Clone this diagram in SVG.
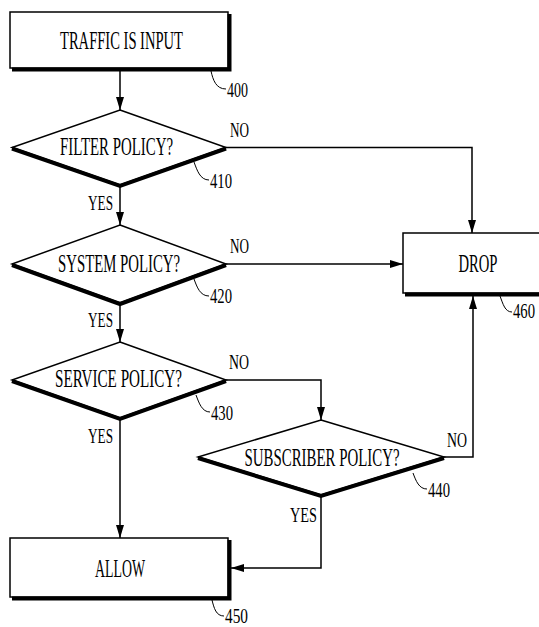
<svg xmlns="http://www.w3.org/2000/svg" width="539" height="627" viewBox="0 0 539 627">
<style>
.box{fill:#fff;stroke:#000;stroke-width:1.5}
.sh{fill:none;stroke:#000;stroke-width:4;stroke-linejoin:miter}
.lbl{font-family:"Liberation Serif","Times New Roman",serif;font-size:25px;fill:#000;text-anchor:middle}
.sm{font-family:"Liberation Serif","Times New Roman",serif;font-size:21px;fill:#000}
.ref{font-family:"Liberation Serif","Times New Roman",serif;font-size:22px;fill:#000}
.ld{fill:none;stroke:#000;stroke-width:1}
.cn{fill:none;stroke:#000;stroke-width:1.5}
</style>
<defs>
<marker id="ah" markerUnits="userSpaceOnUse" markerWidth="14" markerHeight="9" refX="13" refY="4" orient="auto">
<path d="M0,0 L13,4 L0,8 z" fill="#000"/>
</marker>
</defs>
<rect width="539" height="627" fill="#fff"/>

<g id="connectors">
<path class="cn" d="M120,71 V110" marker-end="url(#ah)"/>
<path class="cn" d="M120,187 V225" marker-end="url(#ah)"/>
<path class="cn" d="M120,305 V342" marker-end="url(#ah)"/>
<path class="cn" d="M120,420 V538" marker-end="url(#ah)"/>
<path class="cn" d="M226,147.5 H472 V233" marker-end="url(#ah)"/>
<path class="cn" d="M226,264 H403" marker-end="url(#ah)"/>
<path class="cn" d="M226,380 H321 V420" marker-end="url(#ah)"/>
<path class="cn" d="M444,457 H473 V296" marker-end="url(#ah)"/>
<path class="cn" d="M321,497 V568 H231" marker-end="url(#ah)"/>
<text class="sm" x="230" y="137" textLength="19" lengthAdjust="spacingAndGlyphs">NO</text>
<text class="sm" x="230" y="253" textLength="19" lengthAdjust="spacingAndGlyphs">NO</text>
<text class="sm" x="229" y="369" textLength="20" lengthAdjust="spacingAndGlyphs">NO</text>
<text class="sm" x="447" y="447" textLength="20" lengthAdjust="spacingAndGlyphs">NO</text>
<text class="sm" x="88" y="210" textLength="25" lengthAdjust="spacingAndGlyphs">YES</text>
<text class="sm" x="88" y="327" textLength="25" lengthAdjust="spacingAndGlyphs">YES</text>
<text class="sm" x="88" y="443" textLength="25" lengthAdjust="spacingAndGlyphs">YES</text>
<text class="sm" x="290" y="522" textLength="27" lengthAdjust="spacingAndGlyphs">YES</text>
</g>

<g id="n400">
<rect class="box" x="10" y="12" width="218" height="56"/>
<polyline class="sh" points="229.5,14 229.5,69.5 12,69.5"/>
<text class="lbl" x="121.5" y="49" textLength="123" lengthAdjust="spacingAndGlyphs">TRAFFIC IS INPUT</text>
<path class="ld" d="M211,71 C213,80 216,89 226,89"/>
<text class="ref" x="227" y="97" textLength="21" lengthAdjust="spacingAndGlyphs">400</text>
</g>

<g id="n410">
<polygon class="box" points="120,110 226,147.5 120,185 12,147.5"/>
<polyline class="sh" points="12,148.5 120,186 226,148.5"/>
<text class="lbl" x="116.5" y="155" textLength="113" lengthAdjust="spacingAndGlyphs">FILTER POLICY?</text>
<path class="ld" d="M194,162 C197,170 200,180 209,180"/>
<text class="ref" x="210" y="188" textLength="22" lengthAdjust="spacingAndGlyphs">410</text>
</g>

<g id="n420">
<polygon class="box" points="120,225 226,264 120,303 12,264"/>
<polyline class="sh" points="12,265 120,304 226,265"/>
<text class="lbl" x="119" y="272" textLength="122" lengthAdjust="spacingAndGlyphs">SYSTEM POLICY?</text>
<path class="ld" d="M194,279 C197,287 200,296 209,296"/>
<text class="ref" x="210" y="303" textLength="22" lengthAdjust="spacingAndGlyphs">420</text>
</g>

<g id="n430">
<polygon class="box" points="120,342 226,380 120,418 12,380"/>
<polyline class="sh" points="12,381 120,419 226,381"/>
<text class="lbl" x="118.5" y="387" textLength="127" lengthAdjust="spacingAndGlyphs">SERVICE POLICY?</text>
<path class="ld" d="M196,395 C199,403 202,412 210,412"/>
<text class="ref" x="211" y="420" textLength="22" lengthAdjust="spacingAndGlyphs">430</text>
</g>

<g id="n440">
<polygon class="box" points="321,420 444,457 321,495 198,457"/>
<polyline class="sh" points="198,458 321,496 444,458"/>
<text class="lbl" x="322" y="466" textLength="155" lengthAdjust="spacingAndGlyphs">SUBSCRIBER POLICY?</text>
<path class="ld" d="M413,473 C416,481 419,489 427,489"/>
<text class="ref" x="428" y="497" textLength="22" lengthAdjust="spacingAndGlyphs">440</text>
</g>

<g id="n450">
<rect class="box" x="10" y="538" width="218" height="59"/>
<polyline class="sh" points="229.5,540 229.5,598.5 12,598.5"/>
<text class="lbl" x="120" y="577" textLength="50" lengthAdjust="spacingAndGlyphs">ALLOW</text>
<path class="ld" d="M212,600 C214,608 216,616 224,616"/>
<text class="ref" x="225" y="623" textLength="23" lengthAdjust="spacingAndGlyphs">450</text>
</g>

<g id="n460">
<rect class="box" x="403" y="233" width="150" height="60"/>
<polyline class="sh" points="554.5,235 554.5,294.5 405,294.5"/>
<text class="lbl" x="478" y="272" textLength="39" lengthAdjust="spacingAndGlyphs">DROP</text>
<path class="ld" d="M500,296 C503,304 505,312 512,312"/>
<text class="ref" x="513" y="318" textLength="22" lengthAdjust="spacingAndGlyphs">460</text>
</g>
</svg>
